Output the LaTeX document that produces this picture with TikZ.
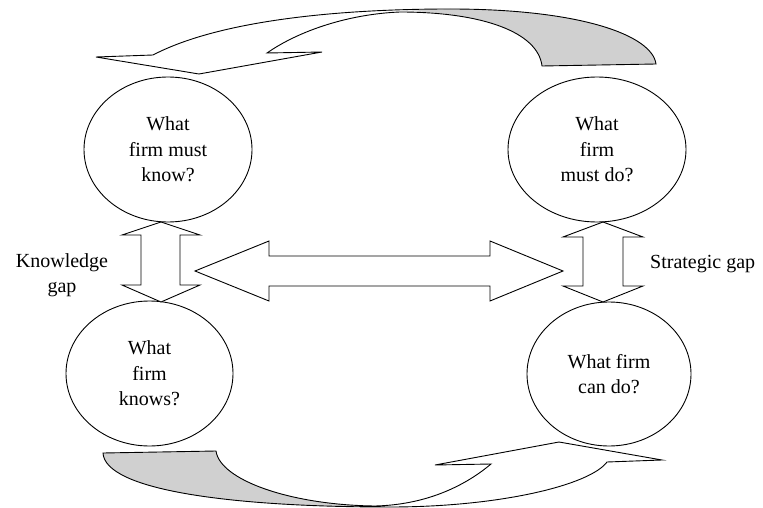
\documentclass[tikz,border=0pt]{standalone}
\usepackage{fontspec}
\setmainfont{Liberation Serif}
\usetikzlibrary{shapes.geometric}
\definecolor{bandgrey}{RGB}{208,208,208}
\tikzset{
  bubble/.style={ellipse, draw=black, line width=0.9pt, inner sep=0pt, align=center,
    font=\fontsize{20}{25.5}\selectfont},
  label/.style={align=center, inner sep=0pt, font=\fontsize{20}{25.5}\selectfont},
  blockarrow/.style={draw=black, fill=white, line width=0.9pt, line join=miter},
  band/.style={draw=black, line width=0.9pt, line join=miter},
}
\begin{document}
\begin{tikzpicture}[x=1pt,y=-1pt]
\useasboundingbox (0,0) rectangle (763,508);

% ellipses
\node[bubble, minimum width=168pt, minimum height=145pt] (tl) at (168,149.5) {What\\firm must\\know?};
\node[bubble, minimum width=178pt, minimum height=145pt] (tr) at (597,149.5) {What\\firm\\must do?};
\node[bubble, minimum width=167pt, minimum height=145pt] (bl) at (149.5,373.5) {What\\firm\\knows?};
\node[bubble, minimum width=164pt, minimum height=144pt] (br) at (609,374) {What firm\\can do?};

% labels
\node[label] (kg) at (62,275) {Knowledge\\gap};
\node[label, anchor=west] (sg) at (650,264) {Strategic gap};

% vertical double arrows
\draw[blockarrow] (161,222) -- (200,235) -- (180,235) -- (180,285) -- (200,285) -- (161,302)
  -- (122,285) -- (141,285) -- (141,235) -- (122,235) -- cycle;
\draw[blockarrow] (603,222) -- (643,237) -- (623,237) -- (623,286) -- (643,286) -- (603,302)
  -- (563,286) -- (583,286) -- (583,237) -- (563,237) -- cycle;

% horizontal double arrow
\draw[blockarrow] (195,271) -- (269,241) -- (269,256) -- (490,256) -- (490,241) -- (563,271)
  -- (490,301) -- (490,286) -- (269,286) -- (269,301) -- cycle;

% top curved arrow
\fill[white] (153,55) .. controls (220,20) and (340,9) .. (450,9)
  .. controls (580,9) and (652,35) .. (656,64) -- (542,66)
  .. controls (538,32) and (482,12) .. (400,12)
  .. controls (350,14) and (300,30) .. (267,53) -- (322,52) -- (199,74) -- (96,57) -- cycle;
\fill[bandgrey] (400,11) .. controls (482,12) and (538,32) .. (542,66) -- (656,64)
  .. controls (652,35) and (580,9) .. (450,9) -- cycle;
\draw[band] (153,55) .. controls (220,20) and (340,9) .. (450,9)
  .. controls (580,9) and (652,35) .. (656,64) -- (542,66)
  .. controls (538,32) and (482,12) .. (400,12)
  .. controls (350,14) and (300,30) .. (267,53) -- (322,52) -- (199,74) -- (96,57) -- cycle;

% bottom curved arrow
\fill[white] (103,453) .. controls (105,490) and (230,507) .. (390,507)
  .. controls (500,507) and (590,485) .. (607,462) -- (662,460) -- (559,442) -- (435,465) -- (491,464)
  .. controls (460,490) and (420,505) .. (375,506)
  .. controls (290,505) and (220,480) .. (216,451) -- cycle;
\fill[bandgrey] (103,453) -- (216,451) .. controls (220,480) and (290,505) .. (375,506)
  -- (390,507) .. controls (230,507) and (105,490) .. (103,453) -- cycle;
\draw[band] (103,453) .. controls (105,490) and (230,507) .. (390,507)
  .. controls (500,507) and (590,485) .. (607,462) -- (662,460) -- (559,442) -- (435,465) -- (491,464)
  .. controls (460,490) and (420,505) .. (375,506)
  .. controls (290,505) and (220,480) .. (216,451) -- cycle;
\end{tikzpicture}
\end{document}
